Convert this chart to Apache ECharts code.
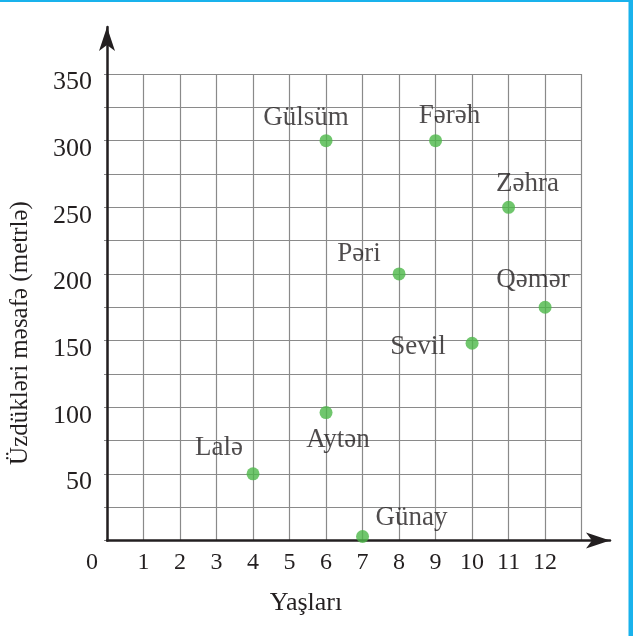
<!DOCTYPE html>
<html>
<head>
<meta charset="utf-8">
<script src="https://cdn.jsdelivr.net/npm/echarts@6/dist/echarts.min.js"></script>
<style>
  html, body { margin: 0; padding: 0; background: #fff; }
  #chart { width: 633px; height: 636px; }
</style>
</head>
<body>
<div id="chart"></div>
<script>
  // 数据
  var names = ['Gülsüm', 'Fərəh', 'Zəhra', 'Pəri', 'Qəmər', 'Sevil', 'Aytən', 'Lalə', 'Günay'];
  var ages = [6, 9, 11, 8, 12, 10, 6, 4, 7];
  var distances = [300, 300, 250, 200, 175, 148, 96, 50, 3];
  var xTicks = [0, 1, 2, 3, 4, 5, 6, 7, 8, 9, 10, 11, 12];
  var yTicks = [50, 100, 150, 200, 250, 300, 350];

  // 标签偏移 (样式)
  var labelOffsets = [[-20, -23], [14, -25], [19, -23], [-40, -20], [-12, -27], [-54, 4], [12, 27], [-34, -26], [49, -19]];

  var font = 'Liberation Serif, Times New Roman, serif';
  var ink = '#231f20';

  var chart = echarts.init(document.getElementById('chart'));

  var points = names.map(function (n, i) {
    return {
      name: n,
      value: [ages[i], distances[i]],
      label: { offset: labelOffsets[i] }
    };
  });

  var option = {
    animation: false,
    grid: [
      { left: 107, right: 51.4, top: 74, bottom: 95.5 },
      { left: 107, right: 23, top: 27, bottom: 95.5 }
    ],
    xAxis: [{
      gridIndex: 0,
      type: 'value',
      min: 0,
      max: 13,
      interval: 1,
      axisLine: { show: false },
      axisTick: { show: false },
      splitLine: { lineStyle: { color: '#8a8a8a', width: 1.2 } },
      axisLabel: {
        margin: 10,
        color: ink,
        fontFamily: font,
        fontSize: 24,
        formatter: function (v) {
          if (v === 0) return '{z|0}';
          return xTicks.indexOf(v) >= 0 ? String(v) : '';
        },
        rich: {
          z: { padding: [0, 30, 0, 0], fontFamily: font, fontSize: 24, color: ink }
        }
      }
    }, {
      gridIndex: 1,
      type: 'value',
      min: 0,
      max: 1,
      z: 3,
      axisLine: {
        lineStyle: { color: ink, width: 2.5 },
        symbol: ['none', 'arrow'],
        symbolSize: [12, 24]
      },
      axisTick: { show: false },
      axisLabel: { show: false },
      splitLine: { show: false }
    }],
    yAxis: [{
      gridIndex: 0,
      type: 'value',
      min: 0,
      max: 350,
      interval: 25,
      axisLine: { show: false },
      axisTick: { show: true, length: 3, lineStyle: { color: '#8a8a8a' } },
      splitLine: { lineStyle: { color: '#8a8a8a', width: 1.2 } },
      axisLabel: {
        margin: 15,
        color: ink,
        formatter: function (v) {
          return yTicks.indexOf(v) >= 0 ? '{n|' + v + '}' : '';
        },
        rich: {
          n: { padding: [17, 0, 0, 0], fontFamily: font, fontSize: 26, color: ink }
        }
      }
    }, {
      gridIndex: 1,
      type: 'value',
      min: 0,
      max: 1,
      z: 3,
      axisLine: {
        lineStyle: { color: ink, width: 2.5 },
        symbol: ['none', 'arrow'],
        symbolSize: [12, 24]
      },
      axisTick: { show: false },
      axisLabel: { show: false },
      splitLine: { show: false }
    }],
    series: [{
      type: 'scatter',
      xAxisIndex: 0,
      yAxisIndex: 0,
      z: 5,
      symbolSize: 13,
      itemStyle: { color: '#4cb848' },
      label: {
        show: true,
        position: 'inside',
        formatter: '{b}',
        color: ink,
        fontFamily: font,
        fontSize: 27,
        align: 'center',
        verticalAlign: 'middle'
      },
      data: points
    }],
    graphic: [
      {
        type: 'text',
        x: 306,
        y: 603,
        style: {
          text: 'Yaşları',
          fill: ink,
          font: '26px ' + font,
          textAlign: 'center',
          textVerticalAlign: 'middle'
        }
      },
      {
        type: 'text',
        x: 20,
        y: 333,
        rotation: Math.PI / 2,
        style: {
          text: 'Üzdükləri məsafə (metrlə)',
          fill: ink,
          font: '25px ' + font,
          textAlign: 'center',
          textVerticalAlign: 'middle'
        }
      },
      // 边框
      { type: 'rect', shape: { x: 0, y: 0, width: 633, height: 2 }, style: { fill: '#19b2ec' } },
      { type: 'rect', shape: { x: 628.5, y: 0, width: 4.5, height: 636 }, style: { fill: '#19b2ec' } }
    ]
  };

  chart.setOption(option);
</script>
</body>
</html>
